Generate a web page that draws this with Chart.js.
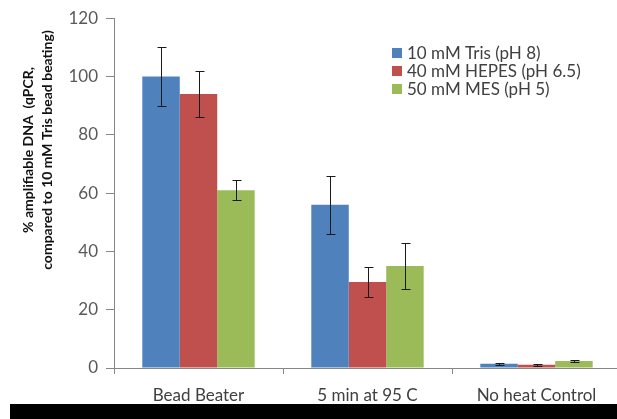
<!DOCTYPE html>
<html>
<head>
<meta charset="utf-8">
<script src="https://cdn.jsdelivr.net/npm/chart.js@4"></script>
<style>
  html, body { margin: 0; padding: 0; background: #fff; overflow: hidden; }
  #wrap { position: relative; width: 630px; height: 404px; }
  #band { margin-left: 10px; width: 620px; height: 15px; background: #000; }
</style>
</head>
<body>
<div id="wrap"><canvas id="chart" width="630" height="404"></canvas></div>
<div id="band"></div>
<script>
const categories = ["Bead Beater", "5 min at 95 C", "No heat Control"];
const seriesNames = ["10 mM Tris (pH 8)", "40 mM HEPES (pH 6.5)", "50 mM MES (pH 5)"];
const trisValues = [100, 56, 1.5];
const hepesValues = [94, 29.5, 1.1];
const mesValues = [61, 35, 2.4];
const trisErr = [10, 10, 0.3];
const hepesErr = [8, 5, 0.3];
const mesErr = [3.5, 8, 0.4];
const yTicks = [0, 20, 40, 60, 80, 100, 120];
const yTitle = ["% amplifiable DNA  (qPCR,", "compared to 10 mM Tris bead beating)"];

const colors = ["#4f81bd", "#c0504d", "#9bbb59"];
const FONT = "Lato, 'Open Sans', sans-serif";

// whiskers drawn on top of each bar
const errorBars = {
  id: "errorBars",
  afterDatasetsDraw(chart) {
    const { ctx } = chart;
    const y = chart.scales.y;
    ctx.save();
    ctx.strokeStyle = "#1a1a1a";
    ctx.lineWidth = 1;
    chart.data.datasets.forEach((ds, i) => {
      chart.getDatasetMeta(i).data.forEach((bar, j) => {
        const v = ds.data[j], e = ds.errors[j];
        const top = Math.round(y.getPixelForValue(v + e)) + 0.5;
        const bot = Math.round(y.getPixelForValue(v - e)) + 0.5;
        const x = Math.round(bar.x) + 0.5;
        ctx.beginPath();
        ctx.moveTo(x, top); ctx.lineTo(x, bot);
        ctx.moveTo(x - 4, top); ctx.lineTo(x + 5, top);
        ctx.moveTo(x - 4, bot); ctx.lineTo(x + 5, bot);
        ctx.stroke();
      });
    });
    ctx.restore();
  }
};

// legend box inside the plot, top right
const insetLegend = {
  id: "insetLegend",
  afterDraw(chart) {
    const { ctx } = chart;
    ctx.save();
    ctx.font = "17px " + FONT;
    ctx.textBaseline = "middle";
    chart.data.datasets.forEach((ds, i) => {
      const cy = 53 + i * 18;
      ctx.fillStyle = ds.backgroundColor;
      ctx.fillRect(392, cy - 5, 10, 10);
      ctx.fillStyle = "#404040";
      ctx.fillText(ds.label, 407, cy + 1);
    });
    ctx.restore();
  }
};

// rotated two-line axis title, sitting a bit above the axis middle
const sideTitle = {
  id: "sideTitle",
  afterDraw(chart) {
    const { ctx } = chart;
    ctx.save();
    ctx.translate(0, 150);
    ctx.rotate(-Math.PI / 2);
    ctx.font = "bold 14px " + FONT;
    ctx.fillStyle = "#111";
    ctx.textAlign = "center";
    ctx.textBaseline = "middle";
    yTitle.forEach((line, i) => ctx.fillText(line, 0, 28 + i * 19));
    ctx.restore();
  }
};

const makeSet = (i, data, errors) => ({
  label: seriesNames[i],
  data,
  errors,
  backgroundColor: colors[i],
  borderWidth: 0,
  barPercentage: 1.0,
  categoryPercentage: 0.665
});

new Chart(document.getElementById("chart"), {
  type: "bar",
  data: {
    labels: categories,
    datasets: [
      makeSet(0, trisValues, trisErr),
      makeSet(1, hepesValues, hepesErr),
      makeSet(2, mesValues, mesErr)
    ]
  },
  options: {
    responsive: false,
    animation: false,
    layout: { padding: { top: 8, right: 9, left: 0, bottom: 0 } },
    plugins: { legend: { display: false }, tooltip: { enabled: false } },
    scales: {
      x: {
        afterFit(scale) { scale.height = 36; },
        grid: { drawOnChartArea: false, offset: true, tickLength: 6, color: "#868686" },
        border: { color: "#868686" },
        ticks: { color: "#404040", font: { family: FONT, size: 17 }, padding: 11 }
      },
      y: {
        min: 0,
        max: 120,
        afterFit(scale) { scale.width = 114; },
        afterBuildTicks(scale) { scale.ticks = yTicks.map(v => ({ value: v })); },
        grid: { drawOnChartArea: false, tickLength: 8, color: "#868686" },
        border: { color: "#868686" },
        ticks: { color: "#595959", font: { family: FONT, size: 17 }, padding: 8 }
      }
    }
  },
  plugins: [errorBars, insetLegend, sideTitle]
});
</script>
</body>
</html>
